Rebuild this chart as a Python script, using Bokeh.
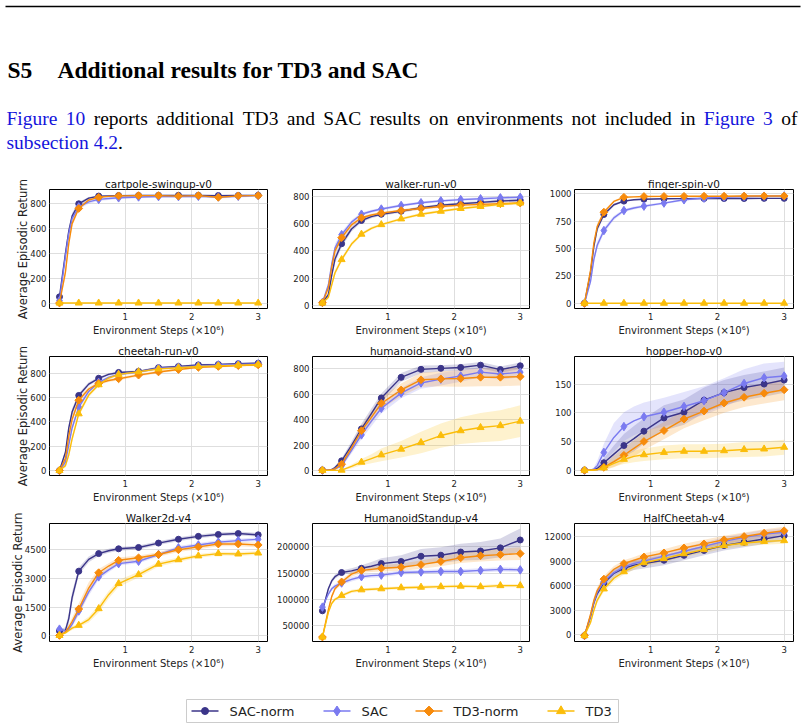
import numpy as np
from bokeh.plotting import figure
from bokeh.layouts import column, row
from bokeh.models import Range1d, FixedTicker, BasicTickFormatter, ColumnDataSource
from bokeh.core.properties import value
from bokeh.embed import file_html
from bokeh.resources import INLINE

# ---------------------------------------------------------------- data
# evaluation steps (x 1e6); markers are drawn at every 0.3e6 steps
STEPS = [0.01, 0.1, 0.15, 0.2, 0.3, 0.45, 0.6, 0.75, 0.9, 1.2, 1.5, 1.8, 2.1, 2.4, 2.7, 3.0]
MARKED = [0, 4, 6, 8, 9, 10, 11, 12, 13, 14, 15]
X_TICKS = [1, 2, 3]

# cartpole-swingup-v0
cartpole_sac_norm = [50, 400, 580, 700, 800, 845, 862, 864, 866, 867, 868, 868, 868, 866, 867, 868]
cartpole_sac = [20, 380, 560, 680, 775, 815, 835, 842, 848, 855, 858, 858, 860, 855, 860, 866]
cartpole_td3_norm = [0, 250, 480, 640, 762, 830, 852, 860, 864, 866, 866, 862, 866, 852, 864, 866]
cartpole_td3 = [0, 0, 0, 0, 0, 0, 0, 0, 0, 0, 0, 0, 0, 0, 0, 0]
cartpole_sac_norm_sd = [5, 40, 30, 25, 15, 10, 6, 5, 5, 5, 5, 5, 5, 6, 5, 5]
cartpole_sac_sd = [5, 40, 35, 30, 20, 15, 12, 12, 10, 10, 10, 10, 10, 12, 10, 8]
cartpole_td3_norm_sd = [2, 40, 35, 25, 15, 10, 6, 5, 5, 5, 5, 8, 5, 10, 6, 5]
cartpole_td3_sd = [1, 1, 1, 1, 1, 1, 1, 1, 1, 1, 1, 1, 1, 1, 1, 1]

# walker-run-v0
walker_run_sac_norm = [20, 80, 220, 340, 452, 560, 622, 650, 668, 690, 715, 735, 745, 755, 765, 770]
walker_run_sac = [22, 150, 300, 420, 518, 610, 668, 690, 706, 732, 752, 766, 775, 781, 788, 792]
walker_run_td3_norm = [20, 130, 280, 400, 496, 590, 642, 662, 676, 695, 710, 725, 735, 740, 745, 750]
walker_run_td3 = [18, 60, 150, 240, 336, 450, 522, 565, 592, 634, 668, 690, 710, 725, 740, 750]
walker_run_sac_norm_sd = [4, 20, 30, 30, 25, 18, 14, 12, 12, 11, 10, 10, 10, 10, 10, 10]
walker_run_sac_sd = [4, 20, 30, 30, 22, 16, 12, 11, 10, 10, 10, 10, 10, 10, 10, 10]
walker_run_td3_norm_sd = [4, 20, 30, 30, 22, 16, 12, 11, 10, 10, 10, 10, 10, 10, 10, 10]
walker_run_td3_sd = [3, 15, 20, 20, 18, 14, 12, 11, 10, 10, 10, 10, 10, 10, 10, 10]

# finger-spin-v0
finger_spin_sac_norm = [0, 280, 520, 680, 811, 900, 933, 945, 950, 955, 956, 957, 957, 957, 958, 958]
finger_spin_sac = [0, 200, 400, 530, 664, 780, 847, 870, 887, 915, 945, 960, 970, 975, 978, 980]
finger_spin_td3_norm = [0, 300, 550, 700, 832, 930, 968, 972, 975, 976, 977, 978, 978, 979, 980, 980]
finger_spin_td3 = [0, 0, 0, 0, 0, 0, 0, 0, 0, 0, 0, 0, 0, 0, 0, 0]
finger_spin_sac_norm_sd = [2, 30, 35, 30, 20, 12, 8, 7, 7, 6, 6, 6, 6, 6, 6, 6]
finger_spin_sac_sd = [2, 25, 35, 35, 25, 20, 15, 13, 12, 10, 8, 7, 6, 6, 6, 6]
finger_spin_td3_norm_sd = [2, 30, 35, 30, 18, 10, 6, 5, 5, 5, 5, 5, 5, 5, 5, 5]
finger_spin_td3_sd = [1, 1, 1, 1, 1, 1, 1, 1, 1, 1, 1, 1, 1, 1, 1, 1]

# cheetah-run-v0
cheetah_run_sac_norm = [0, 150, 350, 480, 617, 710, 758, 790, 806, 815, 845, 855, 868, 872, 878, 882]
cheetah_run_sac = [0, 70, 210, 350, 521, 650, 725, 765, 790, 810, 840, 850, 860, 868, 872, 876]
cheetah_run_td3_norm = [0, 100, 280, 420, 578, 670, 716, 740, 754, 784, 810, 830, 848, 855, 862, 868]
cheetah_run_td3 = [0, 40, 130, 260, 466, 620, 705, 760, 790, 812, 835, 845, 855, 860, 865, 870]
cheetah_run_sac_norm_sd = [3, 25, 30, 30, 20, 15, 12, 10, 10, 10, 10, 8, 8, 8, 8, 8]
cheetah_run_sac_sd = [3, 20, 30, 30, 25, 18, 14, 12, 12, 10, 10, 8, 8, 8, 8, 8]
cheetah_run_td3_norm_sd = [3, 20, 30, 30, 22, 16, 14, 12, 12, 12, 10, 10, 8, 8, 8, 8]
cheetah_run_td3_sd = [3, 15, 25, 30, 25, 18, 14, 12, 12, 10, 10, 8, 8, 8, 8, 8]

# humanoid-stand-v0
humanoid_stand_sac_norm = [5, 5, 10, 25, 78, 200, 329, 450, 572, 734, 797, 805, 812, 830, 795, 825]
humanoid_stand_sac = [5, 5, 8, 15, 40, 160, 282, 390, 491, 610, 690, 720, 745, 775, 760, 775]
humanoid_stand_td3_norm = [5, 5, 8, 15, 52, 180, 315, 420, 530, 635, 715, 722, 725, 735, 735, 740]
humanoid_stand_td3 = [3, 3, 3, 3, 5, 35, 68, 95, 125, 170, 222, 277, 315, 340, 355, 390]
humanoid_stand_sac_norm_sd = [3, 3, 5, 10, 20, 30, 40, 40, 35, 35, 30, 25, 25, 25, 25, 25]
humanoid_stand_sac_sd = [3, 3, 5, 10, 15, 25, 35, 40, 40, 40, 45, 50, 45, 40, 45, 40]
humanoid_stand_td3_norm_sd = [3, 3, 5, 10, 20, 30, 40, 45, 45, 50, 55, 60, 65, 70, 70, 70]
humanoid_stand_td3_sd = [2, 2, 2, 3, 5, 15, 25, 35, 50, 65, 85, 95, 105, 115, 120, 125]

# hopper-hop-v0
hopper_hop_sac_norm = [0, 0, 1, 3, 13, 28, 43, 55, 68, 91, 101, 122, 135, 144, 150, 157]
hopper_hop_sac = [0, 0, 2, 8, 31, 57, 76, 86, 93, 101, 111, 121, 135, 151, 161, 164]
hopper_hop_td3_norm = [0, 0, 1, 1, 5, 15, 26, 38, 50, 69, 89, 103, 117, 127, 134, 140]
hopper_hop_td3 = [0, 0, 0, 1, 4, 12, 19, 24, 27, 31, 33, 33, 34, 36, 37, 40]
hopper_hop_sac_norm_sd = [1, 1, 2, 4, 8, 15, 20, 22, 22, 22, 22, 22, 22, 22, 22, 22]
hopper_hop_sac_sd = [1, 1, 3, 8, 15, 25, 25, 25, 25, 25, 25, 25, 25, 25, 25, 25]
hopper_hop_td3_norm_sd = [1, 1, 1, 2, 5, 10, 12, 14, 15, 15, 16, 16, 17, 17, 18, 18]
hopper_hop_td3_sd = [1, 1, 1, 1, 3, 6, 8, 10, 11, 12, 12, 12, 12, 13, 13, 13]

# Walker2d-v4
walker2d_sac_norm = [250, 300, 900, 2000, 3378, 4000, 4300, 4450, 4550, 4620, 4850, 5050, 5200, 5300, 5350, 5280]
walker2d_sac = [350, 250, 350, 600, 1300, 2300, 3083, 3450, 3775, 3900, 4250, 4600, 4750, 4900, 4980, 5050]
walker2d_td3_norm = [20, 200, 450, 750, 1403, 2500, 3300, 3650, 3950, 4080, 4250, 4500, 4650, 4800, 4800, 4750]
walker2d_td3 = [20, 150, 280, 400, 550, 850, 1421, 2150, 2735, 3200, 3750, 3980, 4180, 4300, 4280, 4330]
walker2d_sac_norm_sd = [80, 150, 300, 300, 200, 150, 120, 100, 100, 100, 100, 100, 100, 100, 100, 100]
walker2d_sac_sd = [80, 80, 100, 150, 200, 200, 150, 120, 100, 100, 100, 100, 100, 100, 100, 100]
walker2d_td3_norm_sd = [20, 80, 150, 200, 300, 300, 200, 150, 150, 120, 120, 120, 120, 120, 120, 120]
walker2d_td3_sd = [20, 50, 80, 100, 100, 150, 200, 200, 180, 150, 120, 120, 100, 100, 100, 100]

# HumanoidStandup-v4
standup_sac_norm = [78000, 120000, 135000, 143000, 151000, 154000, 159000, 163000, 168000, 172000, 182000, 184000, 190000, 192000, 198000, 213000]
standup_sac = [85000, 110000, 120000, 125000, 131000, 138000, 143000, 145000, 146000, 151000, 152000, 153000, 153000, 155000, 157000, 156000]
standup_td3_norm = [28000, 80000, 105000, 120000, 133000, 148000, 155000, 157000, 159000, 161000, 166000, 172000, 179000, 183000, 185000, 187000]
standup_td3 = [28000, 75000, 92000, 100000, 107000, 115000, 118000, 119000, 120000, 122000, 123000, 124000, 125000, 124000, 126000, 126000]
standup_sac_norm_sd = [3000, 4000, 4000, 4000, 4000, 5000, 6000, 8000, 10000, 12000, 14000, 15000, 16000, 17000, 18000, 22000]
standup_sac_sd = [3000, 4000, 4000, 4000, 4000, 4000, 4000, 4000, 4000, 4000, 4000, 4000, 4000, 4000, 4000, 4000]
standup_td3_norm_sd = [1500, 4000, 4000, 4000, 4000, 5000, 5000, 5000, 6000, 7000, 8000, 9000, 10000, 11000, 11000, 12000]
standup_td3_sd = [1500, 3000, 3000, 3000, 3000, 3000, 3000, 3000, 3000, 3000, 3000, 3000, 3000, 3000, 3000, 3000]

# HalfCheetah-v4
halfcheetah_sac_norm = [-100, 2200, 3900, 5000, 6300, 7500, 8100, 8500, 8700, 9100, 9700, 10300, 10900, 11300, 11700, 12100]
halfcheetah_sac = [-100, 2300, 4000, 5200, 6500, 7600, 8300, 8700, 9000, 9600, 10200, 10800, 11400, 11900, 12300, 12500]
halfcheetah_td3_norm = [-100, 2500, 4200, 5400, 6800, 8000, 8700, 9100, 9500, 10000, 10600, 11100, 11600, 12000, 12400, 12700]
halfcheetah_td3 = [-100, 1500, 3000, 4200, 5600, 6900, 7700, 8300, 8800, 9300, 9900, 10400, 10900, 11200, 11400, 11500]
halfcheetah_sac_norm_sd = [50, 300, 400, 450, 500, 550, 600, 600, 600, 600, 600, 600, 600, 600, 600, 600]
halfcheetah_sac_sd = [50, 300, 400, 400, 400, 400, 400, 400, 450, 450, 500, 500, 500, 500, 500, 500]
halfcheetah_td3_norm_sd = [50, 300, 400, 400, 400, 400, 400, 400, 450, 450, 500, 500, 500, 500, 500, 500]
halfcheetah_td3_sd = [50, 250, 350, 350, 350, 350, 350, 350, 400, 400, 400, 400, 400, 400, 400, 400]

# ---------------------------------------------------------------- styles
SERIES = [
    # label, colour, marker, size, angle
    ("SAC-norm", "#3b3589", "circle", 6, 0.0),
    ("SAC", "#7a7af0", "diamond", 8.5, 0.0),
    ("TD3-norm", "#f78b0c", "square", 5.5, np.pi / 4),
    ("TD3", "#fbbd0a", "triangle", 7, 0.0),
]

PANELS = [
    ("cartpole-swingup-v0", (-44, 915), [0, 200, 400, 600, 800],
     [cartpole_sac_norm, cartpole_sac, cartpole_td3_norm, cartpole_td3],
     [cartpole_sac_norm_sd, cartpole_sac_sd, cartpole_td3_norm_sd, cartpole_td3_sd]),
    ("walker-run-v0", (-22, 849), [0, 200, 400, 600, 800],
     [walker_run_sac_norm, walker_run_sac, walker_run_td3_norm, walker_run_td3],
     [walker_run_sac_norm_sd, walker_run_sac_sd, walker_run_td3_norm_sd, walker_run_td3_sd]),
    ("finger-spin-v0", (-48, 1039), [0, 250, 500, 750, 1000],
     [finger_spin_sac_norm, finger_spin_sac, finger_spin_td3_norm, finger_spin_td3],
     [finger_spin_sac_norm_sd, finger_spin_sac_sd, finger_spin_td3_norm_sd, finger_spin_td3_sd]),
    ("cheetah-run-v0", (-41, 937), [0, 200, 400, 600, 800],
     [cheetah_run_sac_norm, cheetah_run_sac, cheetah_run_td3_norm, cheetah_run_td3],
     [cheetah_run_sac_norm_sd, cheetah_run_sac_sd, cheetah_run_td3_norm_sd, cheetah_run_td3_sd]),
    ("humanoid-stand-v0", (-37, 898), [0, 200, 400, 600, 800],
     [humanoid_stand_sac_norm, humanoid_stand_sac, humanoid_stand_td3_norm, humanoid_stand_td3],
     [humanoid_stand_sac_norm_sd, humanoid_stand_sac_sd, humanoid_stand_td3_norm_sd, humanoid_stand_td3_sd]),
    ("hopper-hop-v0", (-9.2, 198), [0, 50, 100, 150],
     [hopper_hop_sac_norm, hopper_hop_sac, hopper_hop_td3_norm, hopper_hop_td3],
     [hopper_hop_sac_norm_sd, hopper_hop_sac_sd, hopper_hop_td3_norm_sd, hopper_hop_td3_sd]),
    ("Walker2d-v4", (-296, 5873), [0, 1500, 3000, 4500],
     [walker2d_sac_norm, walker2d_sac, walker2d_td3_norm, walker2d_td3],
     [walker2d_sac_norm_sd, walker2d_sac_sd, walker2d_td3_norm_sd, walker2d_td3_sd]),
    ("HumanoidStandup-v4", (19500, 244400), [50000, 100000, 150000, 200000],
     [standup_sac_norm, standup_sac, standup_td3_norm, standup_td3],
     [standup_sac_norm_sd, standup_sac_sd, standup_td3_norm_sd, standup_td3_sd]),
    ("HalfCheetah-v4", (-818, 13587), [0, 3000, 6000, 9000, 12000],
     [halfcheetah_sac_norm, halfcheetah_sac, halfcheetah_td3_norm, halfcheetah_td3],
     [halfcheetah_sac_norm_sd, halfcheetah_sac_sd, halfcheetah_td3_norm_sd, halfcheetah_td3_sd]),
]

SANS = "DejaVu Sans"
SERIF = "Liberation Serif"

# grid geometry: per column (left border, frame width, right border), per row (top, frame, bottom)
COLS = [(49, 218, 3), (42, 217, 6), (39, 219, 13)]
ROWS = [(19, 119, 29), (18, 119, 30), (18, 118, 50)]


def make_panel(idx):
    title, yr, yticks, means, sds = PANELS[idx]
    r, c = divmod(idx, 3)
    left, fw, right = COLS[c]
    top, fh, bottom = ROWS[r]
    p = figure(frame_width=fw, frame_height=fh,
               min_border_left=left, min_border_right=right,
               min_border_top=top, min_border_bottom=bottom,
               x_range=Range1d(-0.14, 3.14), y_range=Range1d(*yr),
               output_backend="svg", toolbar_location=None, title=title)
    p.title.text_font = SANS
    p.title.text_font_size = "10.5px"
    p.title.text_font_style = "normal"
    p.title.align = "center"
    p.title.standoff = 0
    p.title.text_color = "#111111"
    p.outline_line_color = "black"
    p.outline_line_width = 1
    p.outline_line_alpha = 1
    p.background_fill_color = "white"
    p.border_fill_color = "white"

    p.xaxis.ticker = FixedTicker(ticks=X_TICKS)
    p.yaxis.ticker = FixedTicker(ticks=yticks)
    p.yaxis.formatter = BasicTickFormatter(use_scientific=False)
    for ax in (p.xaxis[0], p.yaxis[0]):
        ax.major_tick_out = 0
        ax.major_tick_in = 0
        ax.minor_tick_out = 0
        ax.minor_tick_in = 0
        ax.axis_line_color = None
        ax.major_label_text_font = SANS
        ax.major_label_text_font_size = "8.5px"
        ax.major_label_text_color = "#222222"
    p.xaxis.major_label_standoff = 4
    p.yaxis.major_label_standoff = 3
    p.xaxis.axis_label = "Environment Steps (×10⁶)"
    p.xaxis.axis_label_text_font = SANS
    p.xaxis.axis_label_text_font_size = "10px"
    p.xaxis.axis_label_text_font_style = "normal"
    p.xaxis.axis_label_text_color = "#222222"
    p.xaxis.axis_label_standoff = 2
    if c == 0:
        p.yaxis.axis_label = "Average Episodic Return"
        p.yaxis.axis_label_text_font = SANS
        p.yaxis.axis_label_text_font_size = "11.5px"
        p.yaxis.axis_label_text_font_style = "normal"
        p.yaxis.axis_label_text_color = "#222222"
        p.yaxis.axis_label_standoff = -3
    p.grid.grid_line_color = "#dedede"
    p.grid.grid_line_width = 1

    # shaded spread first, then every curve on top
    for (name, color, marker, size, angle), m, s in zip(SERIES, means, sds):
        lo = [a - b for a, b in zip(m, s)]
        hi = [a + b for a, b in zip(m, s)]
        p.varea(x=STEPS, y1=lo, y2=hi, fill_color=color, fill_alpha=0.2)
    for (name, color, marker, size, angle), m in zip(SERIES, means):
        p.line(STEPS, m, line_color=color, line_width=1.4)
        src = ColumnDataSource(dict(x=[STEPS[i] for i in MARKED], y=[m[i] for i in MARKED]))
        p.scatter("x", "y", source=src, marker=marker, size=size, angle=angle,
                  fill_color=color, line_color=color)
    return p


# ---------------------------------------------------------------- page header
TIMES_W = {' ': 250, 'a': 444, 'b': 500, 'c': 444, 'd': 500, 'e': 444, 'f': 333, 'g': 500,
           'h': 500, 'i': 278, 'j': 278, 'k': 500, 'l': 278, 'm': 778, 'n': 500, 'o': 500,
           'p': 500, 'q': 500, 'r': 333, 's': 389, 't': 278, 'u': 500, 'v': 500, 'w': 722,
           'x': 500, 'y': 500, 'z': 444, 'A': 722, 'C': 667, 'D': 722, 'F': 556, 'S': 556,
           'T': 611, '.': 250}


def tw(s, size):
    return sum(TIMES_W.get(ch, 500) for ch in s) / 1000.0 * size


LINK = "#1414dc"
BODY_SIZE = 19.5
LINE1 = "Figure 10 reports additional TD3 and SAC results on environments not included in Figure 3 of".split()
LINE1_LINKS = {0, 1, 13, 14}

hdr = figure(width=806, height=170, x_range=Range1d(0, 806), y_range=Range1d(170, 0),
             min_border=0, toolbar_location=None, output_backend="svg",
             x_axis_type=None, y_axis_type=None, outline_line_color=None)
hdr.segment(x0=[5], y0=[6], x1=[800], y1=[6], line_color="black", line_width=1.3)
hdr.text(x=[7, 57], y=[69, 69], text=["S5", "Additional results for TD3 and SAC"],
         text_font=value(SERIF), text_font_style="bold", text_font_size="23.5px",
         text_baseline="alphabetic", text_color="black")

# justified first line of the paragraph
left_edge, right_edge = 6, 797
widths = [tw(w, BODY_SIZE) for w in LINE1]
gap = (right_edge - left_edge - sum(widths)) / (len(LINE1) - 1)
xs, cur = [], left_edge
for w in widths:
    xs.append(cur)
    cur += w + gap
colors = [LINK if i in LINE1_LINKS else "black" for i in range(len(LINE1))]
hdr.text(x=xs, y=[117.5] * len(LINE1), text=LINE1, text_color=colors,
         text_font=value(SERIF), text_font_size=f"{BODY_SIZE}px", text_baseline="alphabetic")
x2 = left_edge + tw("subsection 4.2", BODY_SIZE)
hdr.text(x=[left_edge, x2], y=[141.5, 141.5], text=["subsection 4.2", "."],
         text_color=[LINK, "black"], text_font=value(SERIF),
         text_font_size=f"{BODY_SIZE}px", text_baseline="alphabetic")

# ---------------------------------------------------------------- shared legend (pixel space)
leg = figure(width=806, height=38, x_range=Range1d(0, 806), y_range=Range1d(38, 0),
             min_border=0, toolbar_location=None, output_backend="svg",
             x_axis_type=None, y_axis_type=None, outline_line_color=None)
leg.quad(left=[186], right=[618], top=[8], bottom=[31], fill_color="white",
         line_color="#cccccc", line_width=1)
LEG_X = [191, 323, 415, 547]          # left end of each legend swatch
LEG_MARK_SIZE = [7, 10, 7, 9]
LEG_Y = 19.5
for (name, color, marker, size, angle), x0, ms in zip(SERIES, LEG_X, LEG_MARK_SIZE):
    leg.segment(x0=[x0], y0=[LEG_Y], x1=[x0 + 27], y1=[LEG_Y], line_color=color, line_width=1.4)
    leg.scatter(x=[x0 + 13.5], y=[LEG_Y], marker=marker, size=ms, angle=angle,
                fill_color=color, line_color=color)
    leg.text(x=[x0 + 38], y=[LEG_Y], text=[name], text_font=value(SANS), text_font_size="13px",
             text_color="#222222", text_baseline="middle", text_align="left")

panels = [make_panel(i) for i in range(9)]
page = column(hdr,
              row(*panels[0:3]),
              row(*panels[3:6]),
              row(*panels[6:9]),
              leg)

open("out.html", "w").write(file_html(page, INLINE))
